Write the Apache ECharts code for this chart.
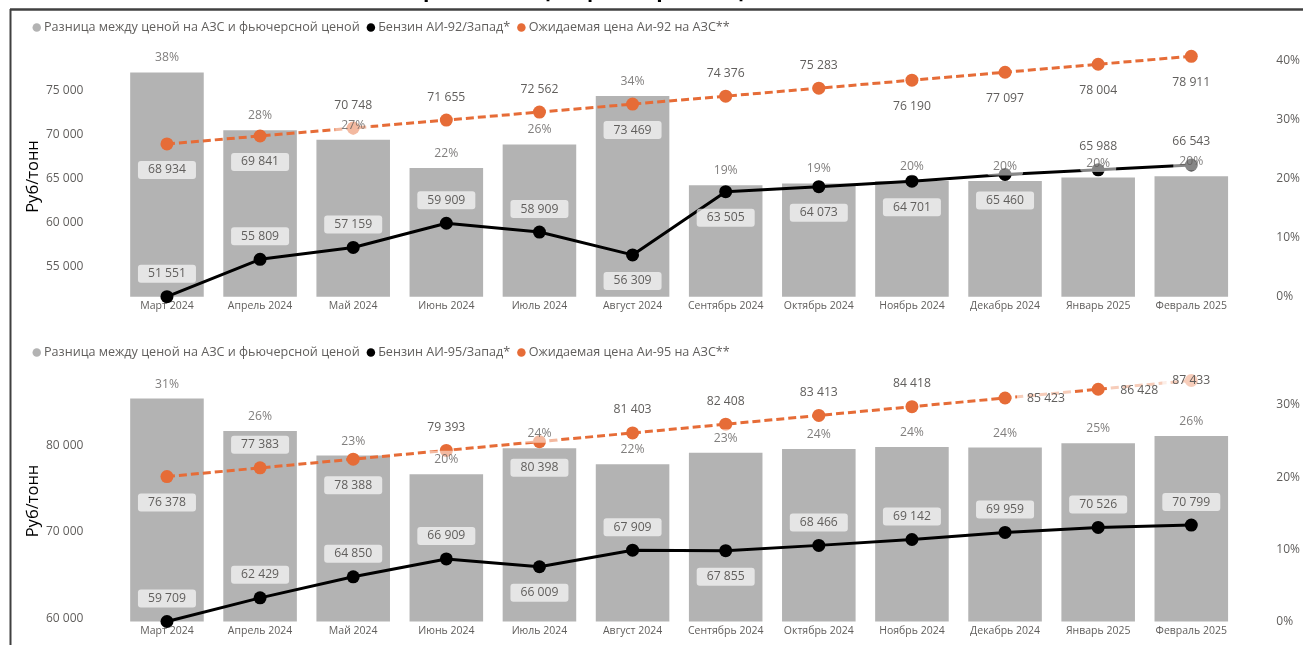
<!DOCTYPE html>
<html>
<head>
<meta charset="utf-8">
<script src="https://cdn.jsdelivr.net/npm/echarts@6/dist/echarts.min.js"></script>
<style>
html,body{margin:0;padding:0;background:#fff;}
#chart{width:1303px;height:645px;}
</style>
</head>
<body>
<div id="chart"></div>
<script>
// ---------- DATA ----------
const categories = ['Март 2024','Апрель 2024','Май 2024','Июнь 2024','Июль 2024','Август 2024','Сентябрь 2024','Октябрь 2024','Ноябрь 2024','Декабрь 2024','Январь 2025','Февраль 2025'];

const gapName = 'Разница между ценой на АЗС и фьючерсной ценой';
const ai92Name = 'Бензин АИ-92/Запад*';
const exp92Name = 'Ожидаемая цена Аи-92 на АЗС**';
const ai95Name = 'Бензин АИ-95/Запад*';
const exp95Name = 'Ожидаемая цена Аи-95 на АЗС**';

const gap92 = [38.0, 28.2, 26.6, 21.8, 25.8, 34.0, 18.9, 19.2, 19.6, 19.6, 20.2, 20.4];
const ai92 = [51551, 55809, 57159, 59909, 58909, 56309, 63505, 64073, 64701, 65460, 65988, 66543];
const expected92 = [68934, 69841, 70748, 71655, 72562, 73469, 74376, 75283, 76190, 77097, 78004, 78911];

const gap95 = [30.9, 26.4, 23.0, 20.4, 24.0, 21.8, 23.4, 23.9, 24.2, 24.1, 24.7, 25.7];
const ai95 = [59709, 62429, 64850, 66909, 66009, 67909, 67855, 68466, 69142, 69959, 70526, 70799];
const expected95 = [76378, 77383, 78388, 79393, 80398, 81403, 82408, 83413, 84418, 85423, 86428, 87433];

const leftTicks92 = [55000, 60000, 65000, 70000, 75000];
const rightTicks92 = [0, 10, 20, 30, 40];
const leftTicks95 = [60000, 70000, 80000];
const rightTicks95 = [0, 10, 20, 30];

// ---------- LABEL PLACEMENT (style) ----------
const place92Black  = ['a','a','a','a','a','b','b','b','b','b','a','a'];
const place92Orange = ['b','b','a','a','a','b','a','a','b','b','b','b'];
const place95Black  = ['a','a','a','a','b','a','b','a','a','a','a','a'];
const place95Orange = ['b','a','b','a','b','a','a','a','a','r','r','c'];

const FONT = "'Open Sans', 'Noto Sans', sans-serif";
const GRAY_TXT = '#605E5C';
const BAR = '#B3B3B3';
const ORANGE = '#E66C37';

const fmt = v => String(Math.round(v)).replace(/\B(?=(\d{3})+(?!\d))/g, ' ');
const offsets = {a: [0, -23], b: [0, 26], r: [41, 1], c: [0, 0]};

function lbl(code) {
  return {
    show: true, position: 'inside', offset: offsets[code],
    color: GRAY_TXT, fontSize: 12.2, fontFamily: FONT,
    backgroundColor: 'rgba(255,255,255,0.66)', padding: [2, 10, 2, 10], borderRadius: 3,
    lineHeight: 14,
    formatter: p => fmt(p.value)
  };
}
const pctLabel = {
  show: true, position: 'inside', offset: [0, -14.5],
  color: GRAY_TXT, fontSize: 12.2, fontFamily: FONT,
  backgroundColor: 'rgba(255,255,255,0.66)', padding: [2, 6], borderRadius: 3,
  lineHeight: 14,
  formatter: p => Math.round(p.value) + '%'
};

function lineData(vals, places) {
  return vals.map((v, i) => ({value: v, label: lbl(places[i])}));
}

function panelSeries(idx, gap, ai, exp, aiName, expName, pBlack, pOrange) {
  const x = idx, yl = idx * 2, yr = idx * 2 + 1;
  return [
    {name: gapName, type: 'bar', xAxisIndex: x, yAxisIndex: yr, data: gap,
     barCategoryGap: '21%', itemStyle: {color: BAR}, z: 2, silent: true},
    {name: expName, type: 'line', xAxisIndex: x, yAxisIndex: yl, data: lineData(exp, pOrange),
     symbol: 'circle', symbolSize: 13, showAllSymbol: true,
     itemStyle: {color: ORANGE}, lineStyle: {color: ORANGE, width: 3, type: [8, 4]}, z: 3, silent: true},
    {name: aiName, type: 'line', xAxisIndex: x, yAxisIndex: yl, data: lineData(ai, pBlack),
     symbol: 'circle', symbolSize: 13, showAllSymbol: true,
     itemStyle: {color: '#000'}, lineStyle: {color: '#000', width: 3}, z: 4, silent: true},
    {name: 'pct' + idx, type: 'scatter', xAxisIndex: x, yAxisIndex: yr, data: gap,
     symbolSize: 1, itemStyle: {color: 'rgba(0,0,0,0)'}, label: pctLabel, z: 6, silent: true}
  ];
}

const axLbl = {color: GRAY_TXT, fontSize: 12, fontFamily: FONT};

function xAx(i) {
  return {type: 'category', gridIndex: i, data: categories,
    axisLine: {show: false}, axisTick: {show: false}, splitLine: {show: false},
    axisLabel: {color: GRAY_TXT, fontSize: 10.5, fontFamily: FONT, margin: 4, interval: 0}};
}
function yLeft(i, ticks, min, max) {
  return {type: 'value', gridIndex: i, position: 'left', min: min, max: max,
    name: 'Руб/тонн', nameLocation: 'middle', nameRotate: 90, nameGap: 87,
    nameMoveOverlap: false,
    nameTextStyle: {color: '#000', fontSize: 16.5, fontFamily: FONT, verticalAlign: 'middle'},
    axisLine: {show: false}, axisTick: {show: false}, splitLine: {show: false},
    axisLabel: Object.assign({customValues: ticks, margin: 37, formatter: v => fmt(v)}, axLbl)};
}
function yRight(i, ticks, max) {
  return {type: 'value', gridIndex: i, position: 'right', min: 0, max: max,
    axisLine: {show: false}, axisTick: {show: false}, splitLine: {show: false},
    axisLabel: Object.assign({customValues: ticks, margin: 38.5, formatter: v => v + '%'}, axLbl)};
}

function legend(top, names) {
  return {top: top, left: 27.5, icon: 'circle', itemWidth: 8.5, itemHeight: 8.5, itemGap: 7,
    data: names, selectedMode: false,
    textStyle: {color: GRAY_TXT, fontSize: 12.6, fontFamily: FONT, padding: [0, 0, 0, -2]}};
}

const chart = echarts.init(document.getElementById('chart'), null, {renderer: 'canvas'});
chart.setOption({
  animation: false,
  backgroundColor: '#fff',
  graphic: [
    {type: 'text', left: 'center', top: -19, z: 10,
     style: {text: 'Сравнение цен фьючерсов с ценами на АЗС', fill: '#000',
       font: "bold 21px 'Open Sans', sans-serif"}},
    {type: 'line', shape: {x1: 10, y1: 9.5, x2: 1303, y2: 9.5}, style: {stroke: '#404040', lineWidth: 2.5}, z: 10},
    {type: 'line', shape: {x1: 10.5, y1: 9, x2: 10.5, y2: 645}, style: {stroke: '#404040', lineWidth: 2}, z: 10}
  ],
  legend: [
    legend(16, [gapName, ai92Name, exp92Name]),
    legend(341, [gapName, ai95Name, exp95Name])
  ],
  grid: [
    {left: 120.4, right: 64.4, top: 56.3, height: 240.4},
    {left: 120.4, right: 64.4, top: 380.5, height: 241}
  ],
  xAxis: [xAx(0), xAx(1)],
  yAxis: [
    yLeft(0, leftTicks92, Math.min(...ai92), Math.max(...expected92)),
    yRight(0, rightTicks92, 40.75),
    yLeft(1, leftTicks95, Math.min(...ai95), Math.max(...expected95)),
    yRight(1, rightTicks95, 33.4)
  ],
  series: [
    ...panelSeries(0, gap92, ai92, expected92, ai92Name, exp92Name, place92Black, place92Orange),
    ...panelSeries(1, gap95, ai95, expected95, ai95Name, exp95Name, place95Black, place95Orange)
  ]
});
</script>
</body>
</html>
